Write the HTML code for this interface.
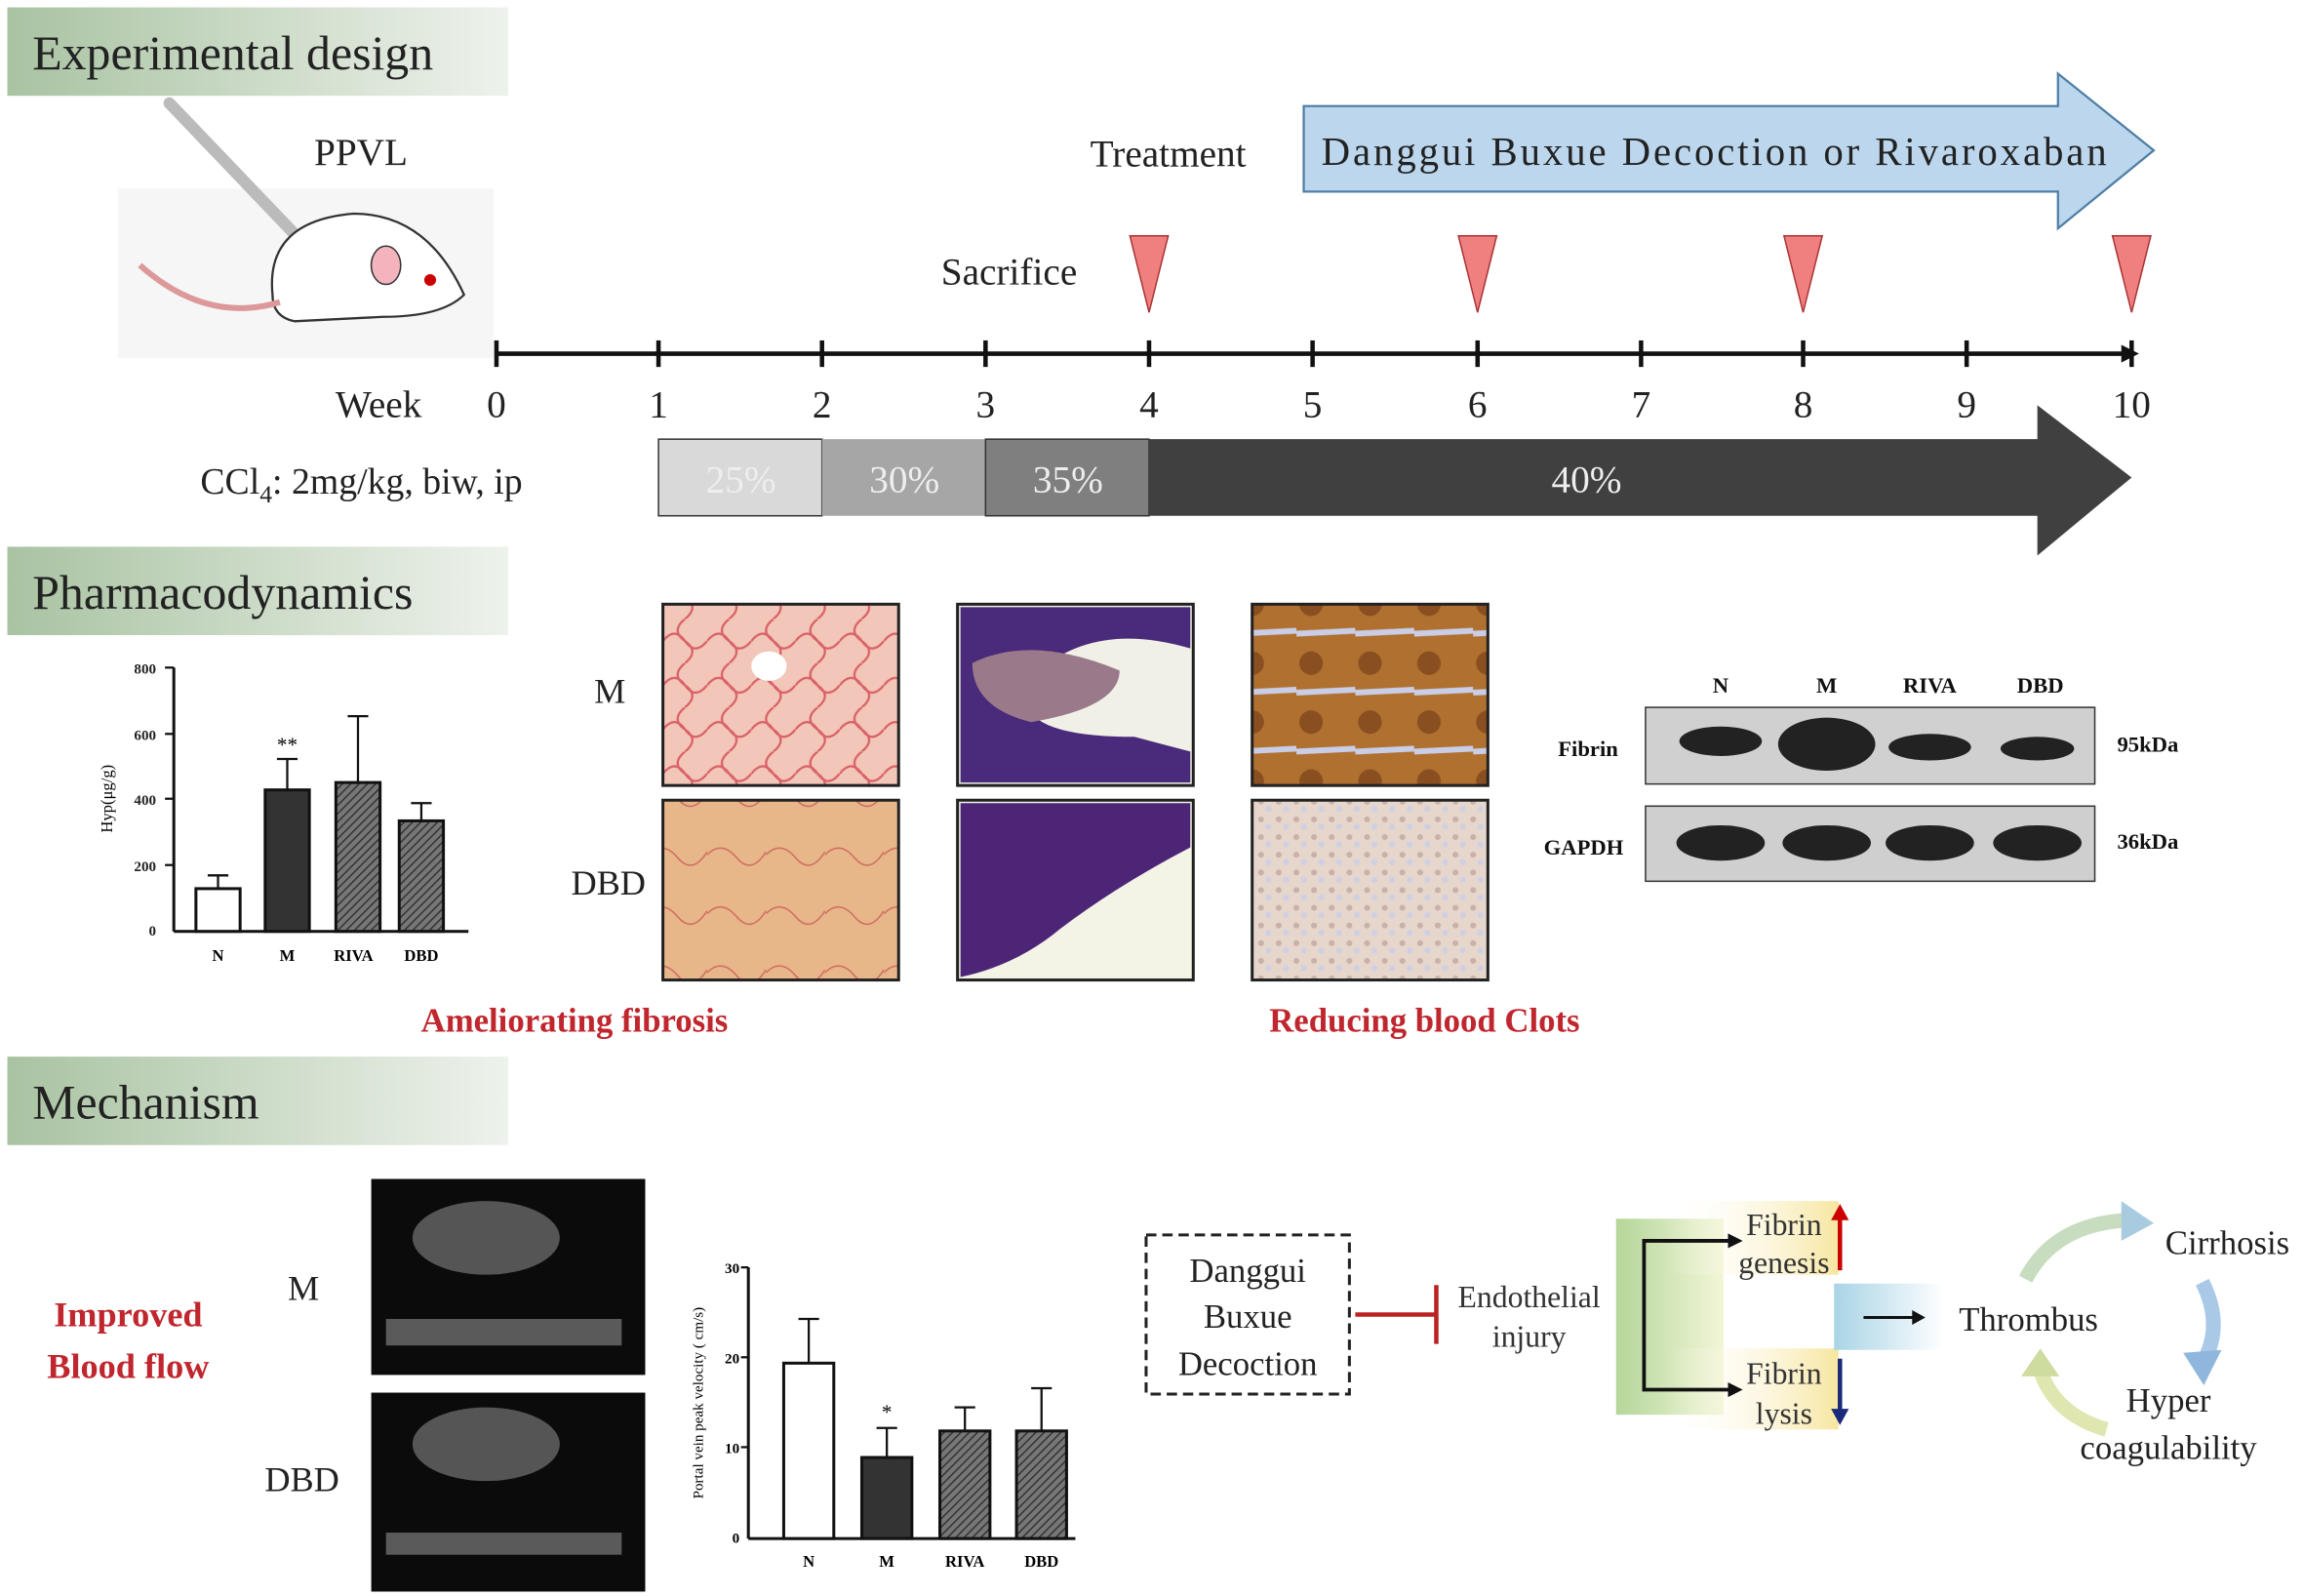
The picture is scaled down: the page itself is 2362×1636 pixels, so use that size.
<!DOCTYPE html>
<html><head><meta charset="utf-8"><style>
html,body{margin:0;padding:0;background:#fff;}
svg{display:block;}
text{font-family:"Liberation Serif",serif;}
</style></head><body>
<svg width="2362" height="1636" viewBox="0 0 1564 1083" preserveAspectRatio="none" xmlns="http://www.w3.org/2000/svg">
<defs>
<linearGradient id="hdr" x1="0" x2="1"><stop offset="0" stop-color="#a9c3a2"/><stop offset="1" stop-color="#eef2ec"/></linearGradient>
<linearGradient id="brk" x1="0" x2="1"><stop offset="0" stop-color="#b5d69a"/><stop offset="1" stop-color="#f2f6d8"/></linearGradient>
<linearGradient id="yel" x1="0" x2="1"><stop offset="0" stop-color="#fff" stop-opacity="0"/><stop offset="1" stop-color="#f7e6a0"/></linearGradient>
<linearGradient id="thr" x1="0" x2="1"><stop offset="0" stop-color="#a9d4e6"/><stop offset="1" stop-color="#fff"/></linearGradient>
<pattern id="hatch" width="4" height="4" patternUnits="userSpaceOnUse" patternTransform="rotate(45)"><rect width="4" height="4" fill="#777"/><line x1="0" y1="0" x2="0" y2="4" stroke="#333" stroke-width="2"/></pattern>
<pattern id="sr" width="30" height="30" patternUnits="userSpaceOnUse"><rect width="30" height="30" fill="#f2c6b8"/><path d="M0 15 Q8 5 15 15 T30 15 M15 0 Q5 8 15 15 T15 30" stroke="#d9606a" stroke-width="1.5" fill="none"/></pattern>
<pattern id="sr2" width="40" height="40" patternUnits="userSpaceOnUse"><rect width="40" height="40" fill="#e7b789"/><path d="M0 20 Q10 10 20 22 T40 18" stroke="#d06a60" stroke-width="1" fill="none"/></pattern>
<pattern id="ihc" width="40" height="40" patternUnits="userSpaceOnUse"><rect width="40" height="40" fill="#b0702f"/><circle cx="10" cy="10" r="8" fill="#8a4f20"/><path d="M0 30 L40 28" stroke="#c9cde6" stroke-width="4"/></pattern>
<pattern id="ihc2" width="12" height="12" patternUnits="userSpaceOnUse"><rect width="12" height="12" fill="#e6d6cc"/><circle cx="4" cy="4" r="2" fill="#c9b1a8"/><circle cx="9" cy="9" r="2" fill="#cdd0e4"/></pattern>
</defs>

<rect x="5" y="5" width="340" height="60" fill="url(#hdr)"/>
<text x="22" y="47" font-size="33" fill="#222">Experimental design</text>
<rect x="5" y="371" width="340" height="60" fill="url(#hdr)"/>
<text x="22" y="413" font-size="33" fill="#222">Pharmacodynamics</text>
<rect x="5" y="717" width="340" height="60" fill="url(#hdr)"/>
<text x="22" y="759" font-size="33" fill="#222">Mechanism</text>

<rect x="80" y="128" width="255" height="115" fill="#f6f6f6"/>
<path d="M115 70 L225 185" stroke="#bbb" stroke-width="8" stroke-linecap="round"/>
<path d="M185 200 Q180 150 240 145 Q290 145 315 200 Q300 215 260 215 L200 218 Q185 215 185 200 Z" fill="#fff" stroke="#333" stroke-width="1.5"/>
<ellipse cx="262" cy="180" rx="10" ry="13" fill="#f4b4be" stroke="#333"/>
<circle cx="292" cy="190" r="4" fill="#c00"/>
<path d="M190 205 Q140 220 95 180" stroke="#d99" stroke-width="4" fill="none"/>
<text x="245" y="112" font-size="26" text-anchor="middle" fill="#222">PPVL</text>

<text x="793" y="113" font-size="26" text-anchor="middle" fill="#222">Treatment</text>
<path d="M885 72 H1397 V50 L1462 102 L1397 155 V130 H885 Z" fill="#bcd7ed" stroke="#4f7fa6" stroke-width="1.5"/>
<text x="897" y="112" font-size="27" textLength="533" lengthAdjust="spacing" fill="#222">Danggui Buxue Decoction  or Rivaroxaban</text>
<text x="685" y="193" font-size="26" text-anchor="middle" fill="#222">Sacrifice</text>
<g fill="#f08080" stroke="#a33" stroke-width="1">
<path d="M767 160 H793 L780 212 Z"/><path d="M990 160 H1016 L1003 212 Z"/><path d="M1211 160 H1237 L1224 212 Z"/><path d="M1434 160 H1460 L1447 212 Z"/></g>

<line x1="337" y1="240" x2="1445" y2="240" stroke="#111" stroke-width="3"/>
<path d="M1440 234 L1452 240 L1440 246 Z" fill="#111"/>
<g stroke="#111" stroke-width="3">
<line x1="337" y1="231" x2="337" y2="249"/><line x1="447" y1="231" x2="447" y2="249"/><line x1="558" y1="231" x2="558" y2="249"/><line x1="669" y1="231" x2="669" y2="249"/><line x1="780" y1="231" x2="780" y2="249"/><line x1="891" y1="231" x2="891" y2="249"/><line x1="1003" y1="231" x2="1003" y2="249"/><line x1="1114" y1="231" x2="1114" y2="249"/><line x1="1224" y1="231" x2="1224" y2="249"/><line x1="1335" y1="231" x2="1335" y2="249"/><line x1="1447" y1="231" x2="1447" y2="249"/></g>
<g font-size="26" text-anchor="middle" fill="#222">
<text x="257" y="283">Week</text><text x="337" y="283">0</text><text x="447" y="283">1</text><text x="558" y="283">2</text><text x="669" y="283">3</text><text x="780" y="283">4</text><text x="891" y="283">5</text><text x="1003" y="283">6</text><text x="1114" y="283">7</text><text x="1224" y="283">8</text><text x="1335" y="283">9</text><text x="1447" y="283">10</text></g>

<text x="136" y="335" font-size="25" fill="#222">CCl<tspan font-size="17" dy="6">4</tspan><tspan dy="-6">: 2mg/kg,  biw,  ip</tspan></text>
<rect x="447" y="298" width="111" height="52" fill="#d9d9d9" stroke="#333"/>
<rect x="558" y="298" width="111" height="52" fill="#a6a6a6"/>
<rect x="669" y="298" width="111" height="52" fill="#7f7f7f" stroke="#333"/>
<path d="M780 298 H1383 V275 L1447 324 L1383 377 V350 H780 Z" fill="#404040"/>
<g font-size="26" text-anchor="middle" fill="#eee"><text x="503" y="334">25%</text><text x="614" y="334">30%</text><text x="725" y="334">35%</text><text x="1077" y="334">40%</text></g>

<g font-size="10" font-weight="bold" fill="#222" text-anchor="end">
<text x="106" y="457">800</text><text x="106" y="502">600</text><text x="106" y="546">400</text><text x="106" y="591">200</text><text x="106" y="635">0</text></g>
<text transform="translate(76 542) rotate(-90)" font-size="11" text-anchor="middle">Hyp(μg/g)</text>
<line x1="118" y1="453" x2="118" y2="632" stroke="#111" stroke-width="2"/>
<line x1="118" y1="632" x2="318" y2="632" stroke="#111" stroke-width="2"/>
<g stroke="#111" stroke-width="1.5"><line x1="112" y1="453" x2="118" y2="453"/><line x1="112" y1="498" x2="118" y2="498"/><line x1="112" y1="542" x2="118" y2="542"/><line x1="112" y1="587" x2="118" y2="587"/></g>
<rect x="133" y="603" width="30" height="29" fill="#fff" stroke="#111" stroke-width="2"/>
<rect x="180" y="536" width="30" height="96" fill="#333" stroke="#111" stroke-width="2"/>
<rect x="228" y="531" width="30" height="101" fill="url(#hatch)" stroke="#111" stroke-width="2"/>
<rect x="271" y="557" width="30" height="75" fill="url(#hatch)" stroke="#111" stroke-width="2"/>
<g stroke="#111" stroke-width="1.5" fill="none"><path d="M148 603 V594 M141 594 H155"/><path d="M195 536 V515 M188 515 H202"/><path d="M243 531 V486 M236 486 H250"/><path d="M286 557 V545 M279 545 H293"/></g>
<text x="195" y="510" font-size="14" text-anchor="middle">**</text>
<g font-size="11" font-weight="bold" text-anchor="middle"><text x="148" y="652">N</text><text x="195" y="652">M</text><text x="240" y="652">RIVA</text><text x="286" y="652">DBD</text></g>

<text x="414" y="477" font-size="24" text-anchor="middle" fill="#222">M</text>
<text x="413" y="607" font-size="24" text-anchor="middle" fill="#222">DBD</text>
<rect x="450" y="410" width="160" height="123" fill="url(#sr)" stroke="#222" stroke-width="2"/>
<ellipse cx="522" cy="452" rx="12" ry="10" fill="#fff"/>
<rect x="450" y="543" width="160" height="122" fill="url(#sr2)" stroke="#222" stroke-width="2"/>
<rect x="650" y="410" width="160" height="123" fill="#f0f0e6" stroke="#222" stroke-width="2"/>
<path d="M652 412 H808 V440 Q740 420 700 460 Q680 500 770 500 L808 510 V531 H652 Z" fill="#4a2a7a"/>
<path d="M660 450 Q700 430 760 455 Q760 480 700 490 Q660 480 660 450Z" fill="#9a7a8a"/>
<rect x="650" y="543" width="160" height="122" fill="#f3f3e6" stroke="#222" stroke-width="2"/>
<path d="M652 545 H808 V575 Q760 600 720 630 Q690 655 652 663 Z" fill="#4d2577"/>
<rect x="850" y="410" width="160" height="123" fill="url(#ihc)" stroke="#222" stroke-width="2"/>
<rect x="850" y="543" width="160" height="122" fill="url(#ihc2)" stroke="#222" stroke-width="2"/>
<g font-size="23" font-weight="bold" fill="#c0262d" text-anchor="middle">
<text x="390" y="700">Ameliorating fibrosis</text><text x="967" y="700">Reducing blood Clots</text></g>

<g font-size="15" font-weight="bold" text-anchor="middle" fill="#111"><text x="1168" y="470">N</text><text x="1240" y="470">M</text><text x="1310" y="470">RIVA</text><text x="1385" y="470">DBD</text>
<text x="1078" y="513">Fibrin</text><text x="1075" y="580">GAPDH</text><text x="1458" y="510">95kDa</text><text x="1458" y="576">36kDa</text></g>
<rect x="1117" y="480" width="305" height="52" fill="#d0d0d0" stroke="#333"/>
<rect x="1117" y="547" width="305" height="51" fill="#cfcfcf" stroke="#333"/>
<g fill="#222"><ellipse cx="1168" cy="503" rx="28" ry="10"/><ellipse cx="1240" cy="505" rx="33" ry="18"/><ellipse cx="1310" cy="507" rx="28" ry="9"/><ellipse cx="1383" cy="508" rx="25" ry="8"/>
<ellipse cx="1168" cy="572" rx="30" ry="12"/><ellipse cx="1240" cy="572" rx="30" ry="12"/><ellipse cx="1310" cy="572" rx="30" ry="12"/><ellipse cx="1383" cy="572" rx="30" ry="12"/></g>

<g font-size="24" font-weight="bold" fill="#c0262d" text-anchor="middle"><text x="87" y="900">Improved</text><text x="87" y="935">Blood flow</text></g>
<text x="206" y="882" font-size="24" text-anchor="middle" fill="#222">M</text>
<text x="205" y="1012" font-size="24" text-anchor="middle" fill="#222">DBD</text>
<rect x="252" y="800" width="186" height="133" fill="#0b0b0b"/>
<ellipse cx="330" cy="840" rx="50" ry="25" fill="#555"/>
<rect x="262" y="895" width="160" height="18" fill="#5a5a5a"/>
<rect x="252" y="945" width="186" height="135" fill="#0b0b0b"/>
<ellipse cx="330" cy="980" rx="50" ry="25" fill="#555"/>
<rect x="262" y="1040" width="160" height="15" fill="#5a5a5a"/>

<g font-size="10" font-weight="bold" text-anchor="end"><text x="502" y="864">30</text><text x="502" y="925">20</text><text x="502" y="986">10</text><text x="502" y="1047">0</text></g>
<text transform="translate(477 952) rotate(-90)" font-size="10" text-anchor="middle">Portal vein peak velocity ( cm/s)</text>
<line x1="508" y1="860" x2="508" y2="1044" stroke="#111" stroke-width="2"/>
<line x1="508" y1="1044" x2="730" y2="1044" stroke="#111" stroke-width="2"/>
<g stroke="#111" stroke-width="1.5"><line x1="503" y1="860" x2="508" y2="860"/><line x1="503" y1="921" x2="508" y2="921"/><line x1="503" y1="982" x2="508" y2="982"/></g>
<rect x="532" y="925" width="34" height="119" fill="#fff" stroke="#111" stroke-width="2"/>
<rect x="585" y="989" width="34" height="55" fill="#333" stroke="#111" stroke-width="2"/>
<rect x="638" y="971" width="34" height="73" fill="url(#hatch)" stroke="#111" stroke-width="2"/>
<rect x="690" y="971" width="34" height="73" fill="url(#hatch)" stroke="#111" stroke-width="2"/>
<g stroke="#111" stroke-width="1.5" fill="none"><path d="M549 925 V895 M542 895 H556"/><path d="M602 989 V969 M595 969 H609"/><path d="M655 971 V955 M648 955 H662"/><path d="M707 971 V942 M700 942 H714"/></g>
<text x="602" y="963" font-size="14" text-anchor="middle">*</text>
<g font-size="11" font-weight="bold" text-anchor="middle"><text x="549" y="1063">N</text><text x="602" y="1063">M</text><text x="655" y="1063">RIVA</text><text x="707" y="1063">DBD</text></g>

<rect x="778" y="838" width="138" height="108" fill="none" stroke="#222" stroke-width="2" stroke-dasharray="7 4"/>
<g font-size="23" text-anchor="middle" fill="#222"><text x="847" y="870">Danggui</text><text x="847" y="901">Buxue</text><text x="847" y="933">Decoction</text></g>
<line x1="920" y1="892" x2="975" y2="892" stroke="#b22" stroke-width="3"/>
<line x1="975" y1="872" x2="975" y2="912" stroke="#b22" stroke-width="3"/>
<g font-size="21" text-anchor="middle" fill="#333"><text x="1038" y="887">Endothelial</text><text x="1038" y="914">injury</text></g>
<rect x="1097" y="827" width="73" height="133" fill="url(#brk)"/>
<rect x="1130" y="815" width="118" height="50" fill="url(#yel)"/>
<rect x="1130" y="915" width="118" height="55" fill="url(#yel)"/>
<path d="M1178 842 H1116 V943 H1178" fill="none" stroke="#111" stroke-width="2.5"/>
<path d="M1173 837 L1183 842 L1173 847 Z M1173 938 L1183 943 L1173 948Z" fill="#111"/>
<g font-size="21" text-anchor="middle" fill="#333"><text x="1211" y="838">Fibrin</text><text x="1211" y="864">genesis</text><text x="1211" y="939">Fibrin</text><text x="1211" y="966">lysis</text></g>
<path d="M1249 862 V826" stroke="#c00" stroke-width="3"/><path d="M1243 828 L1249 817 L1255 828Z" fill="#c00"/>
<path d="M1249 922 V958" stroke="#1a2a7a" stroke-width="3"/><path d="M1243 956 L1249 967 L1255 956Z" fill="#1a2a7a"/>
<rect x="1245" y="871" width="75" height="45" fill="url(#thr)"/>
<line x1="1265" y1="894" x2="1300" y2="894" stroke="#111" stroke-width="2"/><path d="M1298 889 L1307 894 L1298 899Z" fill="#111"/>
<text x="1377" y="903" font-size="23" text-anchor="middle" fill="#222">Thrombus</text>
<text x="1512" y="851" font-size="23" text-anchor="middle" fill="#222">Cirrhosis</text>
<text x="1472" y="958" font-size="23" text-anchor="middle" fill="#222">Hyper</text>
<text x="1472" y="990" font-size="23" text-anchor="middle" fill="#222">coagulability</text>
<path d="M1375 868 Q1395 830 1445 828" stroke="#c8ddc0" stroke-width="10" fill="none"/><path d="M1440 815 L1462 830 L1440 842Z" fill="#a9cbe0"/>
<path d="M1495 870 Q1510 900 1495 925" stroke="#a9c9e6" stroke-width="10" fill="none"/><path d="M1482 918 L1496 940 L1508 916Z" fill="#8fb6dd"/>
<path d="M1430 970 Q1395 960 1385 930" stroke="#e0e6b0" stroke-width="10" fill="none"/><path d="M1372 934 L1385 915 L1398 934Z" fill="#cfdca0"/>
</svg>
</body></html>
